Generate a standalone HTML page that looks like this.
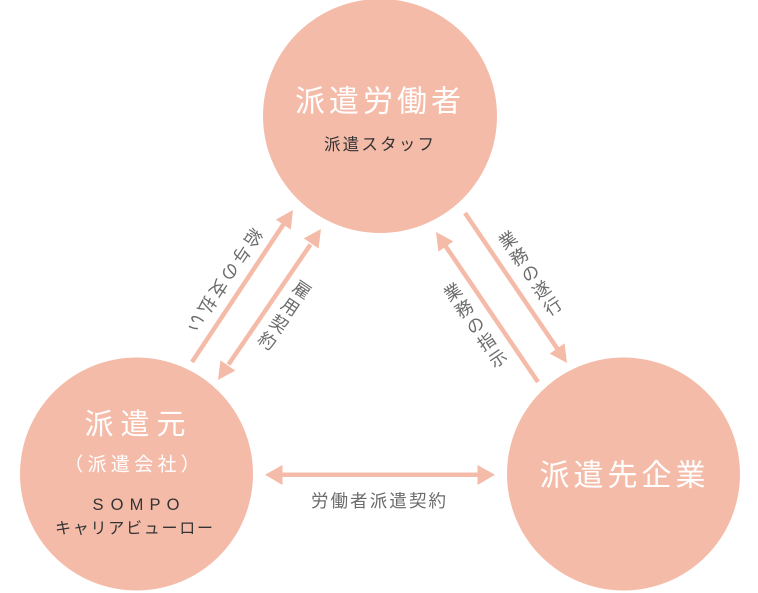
<!DOCTYPE html>
<html><head><meta charset="utf-8">
<style>
html,body{margin:0;padding:0;background:#fff;}
svg{display:block;}
text{font-family:"Liberation Sans","Noto Sans CJK JP",sans-serif;}
.w{fill:#fff;}
.d{fill:#333;}
.g{fill:#6b6b6b;}
</style></head>
<body>
<svg width="758" height="593" viewBox="0 0 758 593" xmlns="http://www.w3.org/2000/svg">
<g fill="#f5bba9">
<circle cx="380" cy="116" r="117"/>
<circle cx="136.5" cy="474" r="116.5"/>
<circle cx="623.5" cy="474" r="116.5"/>
</g>
<g stroke="#f5bba9" stroke-width="4.5" fill="none">
<line x1="192" y1="362" x2="284" y2="223.5"/>
<line x1="228.5" y1="364.5" x2="310.5" y2="244.5"/>
<line x1="465" y1="213" x2="557.5" y2="349"/>
<line x1="538" y1="382" x2="445.5" y2="246"/>
<line x1="281" y1="474.8" x2="479" y2="474.8"/>
</g>
<g fill="#f5bba9">
<polygon points="293,210 290.8,229.6 275.8,219.6"/>
<polygon points="321,229 318.6,248.5 303.7,238.4"/>
<polygon points="218,380 235.3,370.6 220.5,360.4"/>
<polygon points="567,363 549.7,353.6 564.6,343.4"/>
<polygon points="436,232 453.3,241.4 438.4,251.6"/>
<polygon points="265,474.8 282.5,465 282.5,485"/>
<polygon points="495,474.8 477.5,465 477.5,485"/>
</g>

<!-- top circle -->
<text class="w" font-size="30" text-anchor="middle" dominant-baseline="central" x="310 344 378 412 446" y="102">派遣労働者</text>
<text class="d" font-size="16.5" text-anchor="middle" dominant-baseline="central" x="332.2 350.9 369.6 388.4 407.1 425.8" y="145">派遣スタッフ</text>

<!-- left circle -->
<text class="w" font-size="29" text-anchor="middle" dominant-baseline="central" x="99 135 171" y="425">派遣元</text>
<text class="w" font-size="19" text-anchor="middle" dominant-baseline="central" x="73.7 97 120.3 143.7 167 190.3" y="465">（派遣会社）</text>
<text class="d" font-size="16.5" text-anchor="middle" x="98 117 136.5 155 173" y="510">SOMPO</text>
<text class="d" font-size="16" text-anchor="middle" dominant-baseline="central" x="63 80.75 98.5 116.25 134 151.75 169.5 187.25 205" y="529">キャリアビューロー</text>

<!-- right circle -->
<text class="w" font-size="30" text-anchor="middle" dominant-baseline="central" x="554.5 588.5 622.5 656.5 690.5" y="476">派遣先企業</text>

<!-- bottom label -->
<text class="g" font-size="17.5" text-anchor="middle" dominant-baseline="central" x="319.7 339.3 358.9 378.5 398.1 417.7 437.3" y="501">労働者派遣契約</text>

<!-- 給与の支払い -->
<g class="g" font-size="17.5" text-anchor="middle" dominant-baseline="central">
<text transform="translate(252.75,237.5) rotate(123.6)">給</text>
<text transform="translate(241.25,254.5) rotate(123.6)">与</text>
<text transform="translate(229.75,271.5) rotate(123.6)">の</text>
<text transform="translate(218.25,288.5) rotate(123.6)">支</text>
<text transform="translate(206.75,305.5) rotate(123.6)">払</text>
<text transform="translate(195.25,322.5) rotate(123.6)">い</text>
</g>
<!-- 雇用契約 -->
<g class="g" font-size="17.5" text-anchor="middle" dominant-baseline="central">
<text transform="translate(301.75,290) rotate(34)">雇</text>
<text transform="translate(290.25,307) rotate(34)">用</text>
<text transform="translate(278.75,324) rotate(34)">契</text>
<text transform="translate(267.25,341) rotate(34)">約</text>
</g>
<!-- 業務の遂行 -->
<g class="g" font-size="17.5" text-anchor="middle" dominant-baseline="central">
<text transform="translate(508,240.4) rotate(-34)">業</text>
<text transform="translate(519.3,257) rotate(-34)">務</text>
<text transform="translate(530.5,273.5) rotate(-34)">の</text>
<text transform="translate(541.7,290) rotate(-34)">遂</text>
<text transform="translate(553,306.6) rotate(-34)">行</text>
</g>
<!-- 業務の指示 -->
<g class="g" font-size="17.5" text-anchor="middle" dominant-baseline="central">
<text transform="translate(453,292.4) rotate(-34)">業</text>
<text transform="translate(464.3,309) rotate(-34)">務</text>
<text transform="translate(475.5,325.5) rotate(-34)">の</text>
<text transform="translate(486.7,342) rotate(-34)">指</text>
<text transform="translate(498,358.6) rotate(-34)">示</text>
</g>
</svg>
</body></html>
